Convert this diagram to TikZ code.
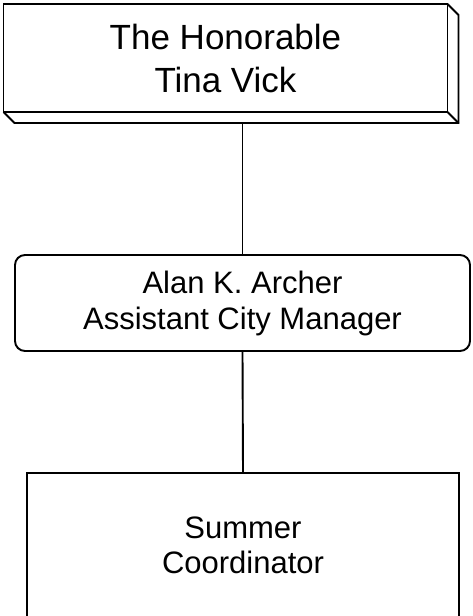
\documentclass[tikz,border=0pt]{standalone}
\usepackage{fontspec}
\setmainfont{Liberation Sans}
\begin{document}
\begin{tikzpicture}[x=1pt,y=-1pt,
  ln/.style={line width=1.9pt},
  boxbase/.style={ln,draw,fill=white,align=center,inner sep=0pt,outer sep=0pt},
  topbox/.style={boxbase,minimum width=444pt,minimum height=108pt,font=\fontsize{35}{43}\selectfont},
  midbox/.style={boxbase,rounded corners=10pt,minimum width=455pt,minimum height=96pt,font=\fontsize{31}{36}\selectfont},
  lowbox/.style={boxbase,minimum width=432pt,minimum height=144.5pt,font=\fontsize{31}{35}\selectfont},
  conn/.style={ln}]
\useasboundingbox (0,0) rectangle (472,616);
\node[topbox] (top) at (225.5,58) {The Honorable\\Tina Vick};
\coordinate (topbase) at ([shift={(11,11)}]top.south west);
\draw[ln,line join=miter] (top.north east) -- ++(11,11) |- (topbase) -- (top.south west);
\draw[ln] (top.south east) -- ++(11,11);
\node[midbox] (mid) at (242.5,303) {Alan K. Archer\\Assistant City Manager};
\node[lowbox] (low) at (243,545.5) {Summer\\Coordinator};
\draw[conn] (mid.north |- topbase) -- (mid.north);
\draw[conn] (mid.south) -- (low.north);
\end{tikzpicture}
\end{document}
